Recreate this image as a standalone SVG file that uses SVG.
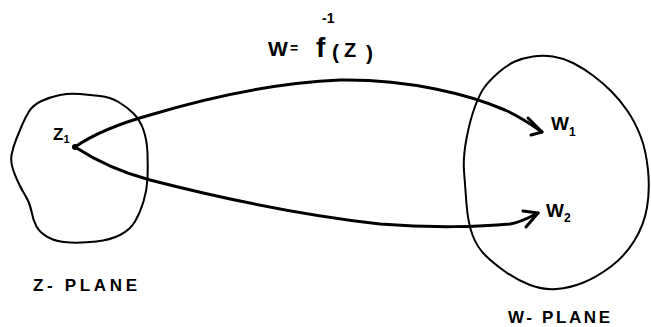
<svg xmlns="http://www.w3.org/2000/svg" width="651" height="327" viewBox="0 0 651 327">
<style>
.blob{fill:none;stroke:#000;stroke-width:2;stroke-linejoin:round}
.curve{fill:none;stroke:#000;stroke-width:3;stroke-linecap:round;stroke-linejoin:round}
.lbl{font-family:"Liberation Sans",Arial,sans-serif;font-weight:bold;fill:#000}
</style>
<rect width="651" height="327" fill="#fff"/>
<g id="z-plane">
<path class="blob" d="M29,111.5 Q33,105 41.5,101 Q50,97 60,95 Q70,93 80,94 Q90,95 100,96 Q110,97 118.5,102 Q127,107 133.5,113.5 Q140,120 143.5,130 Q147,140 147.5,153.5 Q148,167 147.5,178.5 Q147,190 143.5,201.5 Q140,213 135,221.5 Q130,230 120,235 Q110,240 96.5,241.5 Q83,243 70,242.5 Q57,242 48.5,237.5 Q40,233 36.5,226.5 Q33,220 31.5,211.5 Q30,203 25,195 Q20,187 15,175 Q10,163 11.5,155 Q13,147 16.5,138.5 Q20,130 22.5,124 Q25,118 29,111.5 Z"/>
<text class="lbl" x="33" y="291" font-size="17" textLength="104" lengthAdjust="spacing">Z- PLANE</text>
</g>
<g id="z1">
<circle cx="75" cy="147" r="3" fill="#000"/>
<text class="lbl" x="53" y="140" font-size="17">Z<tspan font-size="11" dy="3">1</tspan></text>
</g>
<g id="w-plane">
<path class="blob" d="M553,56.5 Q563,58 573,63 Q583,68 593,75.5 Q603,83 611.5,91.5 Q620,100 627.5,111 Q635,122 640.5,136 Q646,150 648,170 Q650,190 647,207.5 Q644,225 634.5,240.5 Q625,256 611,266.5 Q597,277 583.5,282.5 Q570,288 556.5,289 Q543,290 530,285 Q517,280 505,271.5 Q493,263 485,255 Q477,247 472.5,235 Q468,223 466.5,204 Q465,185 464,171 Q463,157 466.5,138.5 Q470,120 475,106.5 Q480,93 485,86.5 Q490,80 498.5,72.5 Q507,65 515,61.5 Q523,58 533,56.5 Q543,55 553,56.5 Z"/>
<text class="lbl" x="508" y="323" font-size="17" textLength="102" lengthAdjust="spacing">W- PLANE</text>
</g>
<g id="w1">
<text class="lbl" x="551" y="130" font-size="19">W<tspan font-size="12" dy="6">1</tspan></text>
</g>
<g id="w2">
<text class="lbl" x="546" y="217" font-size="19">W<tspan font-size="12" dy="5">2</tspan></text>
</g>
<g id="title">
<text class="lbl" font-size="21"><tspan x="268" y="56">W</tspan><tspan x="290" y="53" font-size="14">=</tspan><tspan x="316" y="57" font-size="28">f</tspan><tspan x="322" y="23" font-size="14">-1</tspan><tspan x="332" y="59" font-size="21">(</tspan><tspan x="344" y="57" font-size="20">Z</tspan><tspan x="366" y="60" font-size="21">)</tspan></text>
</g>
<g id="connectors">
<path class="curve" d="M75,147 C95,133 125,122 150,115 C200,100 270,83 340,80 C410,79 470,95 505,110 C520,117 532,125 542,132"/>
<path class="curve" d="M528,118 L542,132 L531,135"/>
<path class="curve" d="M75,147 C95,160 120,172 150,180 C220,198 300,215 380,224 C430,228 480,227 510,224 C522,222 530,217 538,213"/>
<path class="curve" d="M523,211 L538,213 L526,227"/>
</g>
</svg>
